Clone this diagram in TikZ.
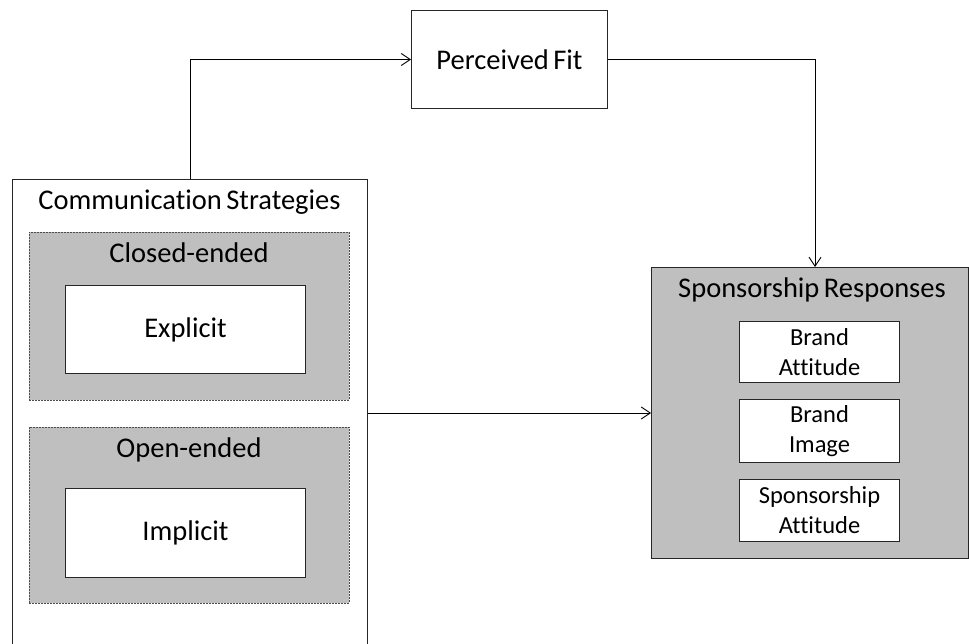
\documentclass[tikz,border=0pt]{standalone}
\usepackage{fontspec}
\setmainfont{Carlito}[RawFeature={-liga;-clig}, WordSpace=0.7]
\usetikzlibrary{arrows.meta}

\begin{document}
\begin{tikzpicture}[x=1pt,y=-1pt,
  box/.style={draw=black!85, line width=1pt, inner sep=0pt, anchor=north west, align=center},
  group/.style={box, fill=gray!50, draw=black!70, dash pattern=on 2pt off 1pt, line width=0.9pt},
  title/.style={anchor=base, inner sep=0pt, font=\fontsize{28.5}{30}\selectfont},
  big/.style={font=\fontsize{28.5}{30}\selectfont},
  small/.style={font=\fontsize{24.5}{30}\selectfont},
  link/.style={draw=black, line width=1pt, -{Straight Barb[length=9pt,width=12pt,line width=0.9pt]}}
]
\useasboundingbox (0,0) rectangle (969,644);

% Communication strategies column
\node[box, minimum width=355, minimum height=475] (cs) at (12,179) {};
\node[title] (cstitle) at (189.5,210) {Communication Strategies};

\node[group, minimum width=320, minimum height=168] (closed) at (29,232) {};
\node[title] (closedtitle) at (189,263) {Closed-ended};
\node[box, fill=white, minimum width=240, minimum height=88, big] (explicit) at (65,285) {Explicit};

\node[group, minimum width=320, minimum height=176] (open) at (29,427) {};
\node[title] (opentitle) at (189,457) {Open-ended};
\node[box, fill=white, minimum width=240, minimum height=89, big] (implicit) at (65,488) {Implicit};

% Mediator
\node[box, minimum width=196, minimum height=98, big] (fit) at (411,10) {Perceived Fit};

% Outcomes
\node[box, fill=gray!50, minimum width=317, minimum height=291] (sr) at (651,267) {};
\node[title] (srtitle) at (812,298) {Sponsorship Responses};
\node[box, fill=white, minimum width=160, minimum height=61, small] (ba) at (739,321) {Brand\\Attitude};
\node[box, fill=white, minimum width=160, minimum height=63, small] (bi) at (739,399) {Brand\\Image};
\node[box, fill=white, minimum width=160, minimum height=62, small] (sa) at (739,479) {Sponsorship\\Attitude};

% Connectors
\coordinate (srin) at (815,267);
\coordinate (midrow) at (0,413);
\draw[link] (cs.north) |- (fit.west);
\draw[link] (fit.east) -| (srin);
\draw[link] (cs.east |- midrow) -- (sr.west |- midrow);
\end{tikzpicture}
\end{document}
